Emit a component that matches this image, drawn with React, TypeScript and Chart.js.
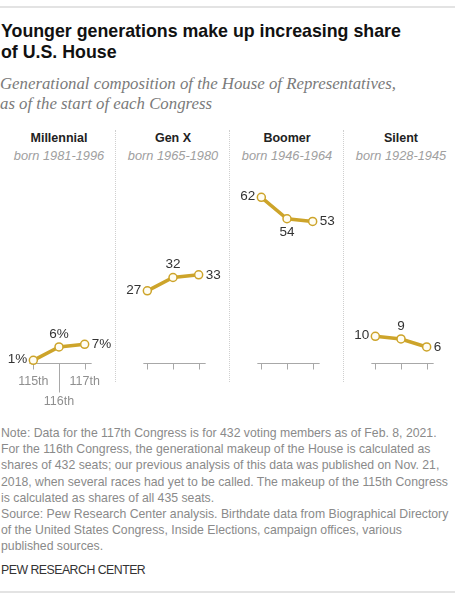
import React, { useEffect, useRef } from "react";
import { Chart, registerables } from "chart.js";

Chart.register(...registerables);

// ---------- data ----------
const congresses = ["115th", "116th", "117th"];
const generations = ["Millennial", "Gen X", "Boomer", "Silent"];
const birthRanges = ["born 1981-1996", "born 1965-1980", "born 1946-1964", "born 1928-1945"];
const millennialValues = [1, 6, 7];
const genXValues = [27, 32, 33];
const boomerValues = [62, 54, 53];
const silentValues = [10, 9, 6];
const seriesValues = [millennialValues, genXValues, boomerValues, silentValues];
const labelSuffixes = ["%", "", "", ""];

const titleLines = ["Younger generations make up increasing share", "of U.S. House"];
const subtitleLines = [
  "Generational composition of the House of Representatives,",
  "as of the start of each Congress",
];
const noteLines = [
  "Note: Data for the 117th Congress is for 432 voting members as of Feb. 8, 2021.",
  "For the 116th Congress, the generational makeup of the House is calculated as",
  "shares of 432 seats; our previous analysis of this data was published on Nov. 21,",
  "2018, when several races had yet to be called. The makeup of the 115th Congress",
  "is calculated as shares of all 435 seats.",
  "Source: Pew Research Center analysis. Birthdate data from Biographical Directory",
  "of the United States Congress, Inside Elections, campaign offices, various",
  "published sources.",
];
const creditText = "PEW RESEARCH CENTER";

// label placement (style, not data)
const labelPlacements = [
  ["left", "above", "right"],
  ["left", "above", "right"],
  ["left", "below", "right"],
  ["left", "above", "right"],
];

const SANS = "'Liberation Sans', Arial, sans-serif";
const SERIF = "'Liberation Serif', 'Times New Roman', serif";
const GOLD = "#cda42a";

const PANEL_LEFT = 2;
const PANEL_W = 114;
const CANVAS_TOP = 170;
const CANVAS_H = 240;

function Panel({ index }: { index: number }) {
  const ref = useRef<HTMLCanvasElement | null>(null);
  useEffect(() => {
    const canvas = ref.current;
    if (!canvas) return;
    const values = seriesValues[index];
    const placements = labelPlacements[index];
    const suffix = labelSuffixes[index];
    const showTickLabels = index === 0;

    const decor = {
      id: "panelDecor",
      beforeDatasetsDraw(chart: any) {
        const ctx = chart.ctx;
        const meta = chart.getDatasetMeta(0);
        const axisY = Math.round(chart.scales.y.getPixelForValue(0)) + 0.5;
        const xs = meta.data.map((p: any) => p.x);
        ctx.save();
        ctx.strokeStyle = "#a8a8a8";
        ctx.lineWidth = 1;
        ctx.beginPath();
        ctx.moveTo(xs[0] - 4, axisY);
        ctx.lineTo(xs[xs.length - 1] + 7, axisY);
        xs.forEach((x: number, i: number) => {
          const len = showTickLabels && i === 1 ? 29 : 6;
          const px = Math.round(x) + 0.5;
          ctx.moveTo(px, axisY);
          ctx.lineTo(px, axisY + len);
        });
        ctx.stroke();
        if (showTickLabels) {
          ctx.fillStyle = "#8f8f8f";
          ctx.font = `12.5px ${SANS}`;
          ctx.textAlign = "center";
          ctx.textBaseline = "middle";
          ctx.fillText(congresses[0], xs[0], axisY + 18);
          ctx.fillText(congresses[2], xs[2], axisY + 18);
          ctx.fillText(congresses[1], xs[1], axisY + 38);
        }
        ctx.restore();
      },
      afterDatasetsDraw(chart: any) {
        const ctx = chart.ctx;
        const meta = chart.getDatasetMeta(0);
        ctx.save();
        ctx.fillStyle = "#333333";
        ctx.font = `13.5px ${SANS}`;
        ctx.textBaseline = "middle";
        meta.data.forEach((p: any, i: number) => {
          const txt = `${values[i]}${suffix}`;
          const pl = placements[i];
          if (pl === "left") {
            ctx.textAlign = "right";
            ctx.fillText(txt, p.x - 6, p.y - 1);
          } else if (pl === "right") {
            ctx.textAlign = "left";
            ctx.fillText(txt, p.x + 7, p.y);
          } else if (pl === "above") {
            ctx.textAlign = "center";
            ctx.fillText(txt, p.x, p.y - 13);
          } else {
            ctx.textAlign = "center";
            ctx.fillText(txt, p.x, p.y + 14);
          }
        });
        ctx.restore();
      },
    };

    const chart = new Chart(canvas, {
      type: "line",
      data: {
        labels: congresses,
        datasets: [
          {
            data: values,
            borderColor: GOLD,
            borderWidth: 3.5,
            pointRadius: 4,
            pointBorderWidth: 1.5,
            pointBorderColor: GOLD,
            pointBackgroundColor: "#fffdf3",
            tension: 0,
            clip: false as any,
          },
        ],
      },
      options: {
        animation: false,
        responsive: true,
        maintainAspectRatio: false,
        events: [],
        layout: { padding: { left: 18.5, right: 18.5, top: 6, bottom: 47 } },
        plugins: { legend: { display: false }, tooltip: { enabled: false } },
        scales: {
          x: { type: "category", display: false, offset: true },
          y: { type: "linear", display: false, min: 0, max: 70 },
        },
      },
      plugins: [decor],
    });
    return () => chart.destroy();
  }, [index]);

  return (
    <div
      style={{
        position: "absolute",
        left: PANEL_LEFT + PANEL_W * index,
        top: CANVAS_TOP,
        width: PANEL_W,
        height: CANVAS_H,
      }}
    >
      <canvas ref={ref} />
    </div>
  );
}

export default function App() {
  return (
    <div
      style={{
        position: "fixed",
        left: 0,
        top: 0,
        width: 455,
        height: 599,
        background: "#fff",
        overflow: "hidden",
        fontFamily: SANS,
      }}
    >
      <div style={{ position: "absolute", left: 0, top: 6, width: 455, height: 2, background: "#e3e3e3" }} />
      <div
        style={{
          position: "absolute",
          left: 1,
          top: 20.5,
          fontSize: 17.8,
          lineHeight: "21px",
          fontWeight: 700,
          color: "#111",
          whiteSpace: "nowrap",
        }}
      >
        {titleLines.map((l) => (
          <div key={l}>{l}</div>
        ))}
      </div>
      <div
        style={{
          position: "absolute",
          left: 0,
          top: 74,
          fontFamily: SERIF,
          fontStyle: "italic",
          fontSize: 16.8,
          lineHeight: "19.5px",
          color: "#7a7a7a",
          whiteSpace: "nowrap",
        }}
      >
        {subtitleLines.map((l) => (
          <div key={l}>{l}</div>
        ))}
      </div>

      {generations.map((g, i) => (
        <div
          key={g}
          style={{
            position: "absolute",
            left: PANEL_LEFT + PANEL_W * i,
            top: 130,
            width: PANEL_W,
            textAlign: "center",
            whiteSpace: "nowrap",
          }}
        >
          <div style={{ fontWeight: 700, fontSize: 12.5, lineHeight: "17px", color: "#222" }}>{g}</div>
          <div style={{ fontStyle: "italic", fontSize: 12.8, lineHeight: "17px", color: "#a0a0a0" }}>
            {birthRanges[i]}
          </div>
        </div>
      ))}

      {[1, 2, 3].map((i) => (
        <div
          key={i}
          style={{
            position: "absolute",
            left: PANEL_LEFT + PANEL_W * i - 1,
            top: 130,
            height: 252,
            width: 0,
            borderLeft: "1px dotted #cfcfcf",
          }}
        />
      ))}

      {[0, 1, 2, 3].map((i) => (
        <Panel key={i} index={i} />
      ))}

      <div
        style={{
          position: "absolute",
          left: 1,
          top: 425,
          fontSize: 12.25,
          lineHeight: "16.2px",
          color: "#8a8a8a",
          whiteSpace: "nowrap",
        }}
      >
        {noteLines.map((l) => (
          <div key={l}>{l}</div>
        ))}
      </div>
      <div
        style={{
          position: "absolute",
          left: 1,
          top: 562,
          fontSize: 12.3,
          letterSpacing: -0.5,
          lineHeight: "16px",
          color: "#333",
          whiteSpace: "nowrap",
        }}
      >
        {creditText}
      </div>
      <div style={{ position: "absolute", left: 0, top: 591, width: 455, height: 2, background: "#e3e3e3" }} />
    </div>
  );
}
